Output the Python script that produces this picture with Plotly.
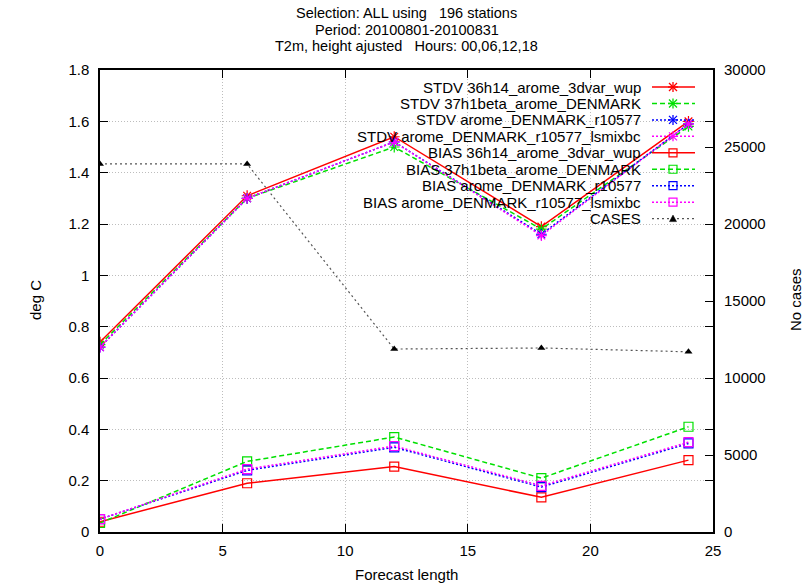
import plotly.graph_objects as go

# ---- data ----
forecast_length = [0, 6, 12, 18, 24]
stdv_36h14 = [0.74, 1.31, 1.54, 1.19, 1.60]
stdv_37h1beta = [0.73, 1.30, 1.50, 1.18, 1.58]
stdv_r10577 = [0.72, 1.30, 1.52, 1.16, 1.59]
stdv_lsmixbc = [0.72, 1.30, 1.52, 1.155, 1.59]
bias_36h14 = [0.04, 0.19, 0.255, 0.135, 0.28]
bias_37h1beta = [0.035, 0.275, 0.37, 0.21, 0.41]
bias_r10577 = [0.05, 0.24, 0.33, 0.175, 0.345]
bias_lsmixbc = [0.05, 0.245, 0.335, 0.18, 0.35]
cases = [23900, 23900, 11880, 11950, 11700]

names = [
    "STDV 36h14_arome_3dvar_wup",
    "STDV 37h1beta_arome_DENMARK",
    "STDV arome_DENMARK_r10577",
    "STDV arome_DENMARK_r10577_lsmixbc",
    "BIAS 36h14_arome_3dvar_wup",
    "BIAS 37h1beta_arome_DENMARK",
    "BIAS arome_DENMARK_r10577",
    "BIAS arome_DENMARK_r10577_lsmixbc",
]
series = [stdv_36h14, stdv_37h1beta, stdv_r10577, stdv_lsmixbc,
          bias_36h14, bias_37h1beta, bias_r10577, bias_lsmixbc]
y_ticks = [0, 0.2, 0.4, 0.6, 0.8, 1, 1.2, 1.4, 1.6, 1.8]
y_ticktext = ["0", "0.2", "0.4", "0.6", "0.8", "1", "1.2", "1.4", "1.6", "1.8"]
y2_ticks = [0, 5000, 10000, 15000, 20000, 25000, 30000]
x_ticks = [0, 5, 10, 15, 20, 25]
title_lines = ["Selection: ALL using \u00a0 196 stations",
               "Period: 20100801-20100831",
               "T2m, height ajusted \u00a0 Hours: 00,06,12,18"]

# ---- styles ----
colors = ["#ff0000", "#00e000", "#0000ff", "#ff00ff"] * 2
dashes = ["solid", "5px,3px", "2px,2px", "2px,2px"] * 2
symbols = ["asterisk-open"] * 4 + ["square-open"] * 4
FONT = "Liberation Sans, Arial, sans-serif"
FS = 15
GRID = dict(showgrid=True, gridcolor="#bdbdbd", griddash="1px,2px", gridwidth=1)

W, H = 806, 585
L, R, T, B = 100, 93, 70, 53
PW, PH = W - L - R, H - T - B


def px(xp):
    return (xp - L) / PW


def py(yp):
    return (H - B - yp) / PH


fig = go.Figure()
for i, (nm, ys) in enumerate(zip(names, series)):
    fig.add_trace(go.Scatter(
        x=forecast_length, y=ys, name=nm, mode="lines+markers",
        line=dict(color=colors[i], width=1.5, dash=dashes[i]),
        marker=dict(symbol=symbols[i], size=9, color=colors[i],
                    line=dict(color=colors[i], width=1.2)),
        showlegend=False,
    ))

fig.add_trace(go.Scatter(
    x=forecast_length, y=cases, name="CASES", mode="lines+markers", yaxis="y2",
    line=dict(color="#555555", width=1.2, dash="2px,3px"),
    marker=dict(symbol="triangle-up", size=7, color="black"),
    showlegend=False,
))

shapes = []
annotations = []

# white mask behind the key (hides gridlines, not traces)
shapes.append(dict(type="rect", xref="paper", yref="paper",
                   x0=px(340), x1=1.0, y0=py(228), y1=1.0,
                   fillcolor="white", line=dict(width=0), layer="between"))

# ---- key (gnuplot style: text right-aligned, sample on the right) ----
key_names = names + ["CASES"]
key_colors = colors + ["#555555"]
key_dashes = dashes + ["2px,3px"]
key_y0, key_dy = 87, 16.45
text_right, s0, s1, mc = 643, 652, 695, 673
for i, nm in enumerate(key_names):
    yy = key_y0 + i * key_dy
    annotations.append(dict(text=nm, xref="paper", yref="paper", x=px(text_right), y=py(yy),
                            xanchor="right", yanchor="middle", showarrow=False,
                            font=dict(family=FONT, size=FS, color="black")))
    shapes.append(dict(type="line", xref="paper", yref="paper", x0=px(s0), x1=px(s1),
                       y0=py(yy), y1=py(yy),
                       line=dict(color=key_colors[i], width=1.5 if i < 8 else 1.2,
                                 dash=key_dashes[i])))
    common = dict(xref="paper", yref="paper", xsizemode="pixel", ysizemode="pixel",
                  xanchor=px(mc), yanchor=py(yy))
    if i < 4:
        for (a, b, c, d) in [(-5, 0, 5, 0), (0, -5, 0, 5), (-4, -4, 4, 4), (-4, 4, 4, -4)]:
            shapes.append(dict(type="line", x0=a, y0=b, x1=c, y1=d,
                               line=dict(color=key_colors[i], width=1.3), **common))
    elif i < 8:
        shapes.append(dict(type="rect", x0=-4, y0=-4, x1=4, y1=4,
                           line=dict(color=key_colors[i], width=1.2), **common))
    else:
        shapes.append(dict(type="path", path="M -3.5 -3 L 3.5 -3 L 0 3.5 Z",
                           fillcolor="black", line=dict(color="black", width=0.5), **common))

# ---- title lines ----
for yy, t in zip([12.5, 29.5, 46.5], title_lines):
    annotations.append(dict(text=t, xref="paper", yref="paper", x=0.5, y=py(yy),
                            xanchor="center", yanchor="middle", showarrow=False,
                            font=dict(family=FONT, size=14.5, color="black")))

# ---- axis titles ----
annotations.append(dict(text="deg C", xref="paper", yref="paper", x=px(35), y=py(300),
                        textangle=-90, xanchor="center", yanchor="middle", showarrow=False,
                        font=dict(family=FONT, size=FS)))
annotations.append(dict(text="No cases", xref="paper", yref="paper", x=px(795), y=py(300),
                        textangle=-90, xanchor="center", yanchor="middle", showarrow=False,
                        font=dict(family=FONT, size=FS)))
annotations.append(dict(text="Forecast length", xref="paper", yref="paper", x=0.5, y=py(574),
                        xanchor="center", yanchor="middle", showarrow=False,
                        font=dict(family=FONT, size=FS)))

fig.update_layout(
    width=W, height=H,
    margin=dict(l=L, r=R, t=T, b=B),
    paper_bgcolor="white", plot_bgcolor="white",
    font=dict(family=FONT, size=FS, color="black"),
    showlegend=False,
    shapes=shapes,
    annotations=annotations,
    xaxis=dict(
        range=[0, 25], tickvals=x_ticks,
        ticks="inside", ticklen=8, tickcolor="black",
        showline=True, linecolor="black", linewidth=1.5, mirror="ticks",
        zeroline=False, ticklabelstandoff=4,
        automargin=False, **GRID,
    ),
    yaxis=dict(
        range=[0, 1.8], tickvals=y_ticks, ticktext=y_ticktext,
        ticks="inside", ticklen=8, tickcolor="black",
        showline=True, linecolor="black", linewidth=1.5, mirror="ticks",
        zeroline=False, ticklabelstandoff=6,
        automargin=False, **GRID,
    ),
    yaxis2=dict(
        range=[0, 30000], tickvals=y2_ticks, ticktext=[str(v) for v in y2_ticks],
        overlaying="y", side="right",
        ticks="inside", ticklen=8, tickcolor="black",
        showline=False, showgrid=False, zeroline=False, ticklabelstandoff=10,
        automargin=False,
    ),
)

fig.write_html("out.html")
